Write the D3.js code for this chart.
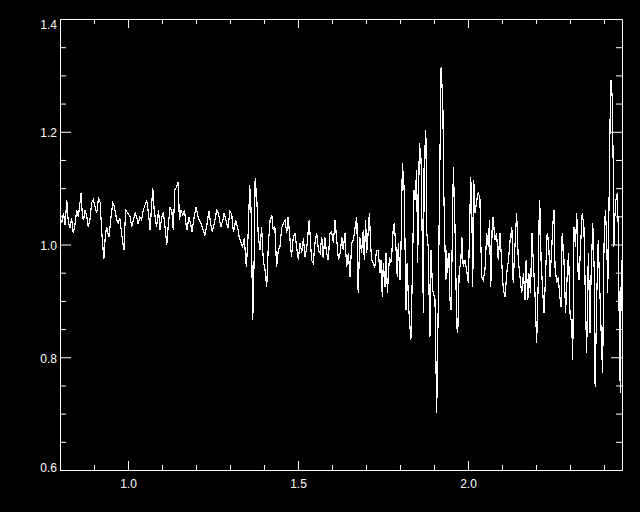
<!DOCTYPE html>
<html>
<head>
<meta charset="utf-8">
<script src="https://cdn.jsdelivr.net/npm/d3@7"></script>
<style>
  html, body { margin: 0; padding: 0; background: #000; }
  svg { display: block; }
</style>
</head>
<body>
<div id="grafico"></div>
<script>
// [comprimento de onda, razao]
const espectro = [
  [0.800,1.049],[0.805,1.038],[0.810,1.056],[0.815,1.035],[0.820,1.079],[0.824,1.043],[0.829,1.029],[0.834,1.047],
  [0.839,1.020],[0.844,1.035],[0.849,1.061],[0.854,1.049],[0.859,1.075],[0.862,1.091],[0.866,1.049],[0.869,1.043],
  [0.874,1.061],[0.879,1.049],[0.883,1.031],[0.888,1.043],[0.893,1.074],[0.898,1.079],[0.903,1.067],[0.908,1.056],
  [0.913,1.082],[0.918,1.075],[0.923,1.020],[0.929,0.974],[0.933,1.013],[0.937,1.031],[0.944,1.013],[0.949,1.043],
  [0.955,1.074],[0.960,1.067],[0.967,1.043],[0.971,1.038],[0.976,1.047],[0.981,1.020],[0.988,0.990],[0.993,1.061],
  [0.999,1.056],[1.006,1.049],[1.011,1.031],[1.016,1.043],[1.021,1.056],[1.026,1.047],[1.030,1.036],[1.035,1.049],
  [1.040,1.043],[1.045,1.061],[1.050,1.070],[1.055,1.079],[1.060,1.056],[1.065,1.026],[1.070,1.074],[1.073,1.100],
  [1.077,1.061],[1.084,1.031],[1.090,1.061],
  [1.094,1.026],[1.099,1.047],[1.104,1.058],[1.109,1.031],[1.114,0.999],[1.119,1.038],[1.124,1.067],[1.129,1.058],
  [1.133,1.026],[1.138,1.097],[1.143,1.102],[1.148,1.111],[1.151,1.043],[1.156,1.061],[1.161,1.052],[1.166,1.061],
  [1.171,1.035],[1.174,1.026],[1.179,1.049],[1.184,1.038],[1.188,1.022],[1.193,1.043],[1.200,1.067],[1.205,1.052],
  [1.210,1.043],[1.216,1.035],[1.221,1.026],[1.226,1.017],[1.231,1.031],[1.238,1.059],[1.243,1.038],[1.248,1.022],
  [1.254,1.038],[1.261,1.061],[1.266,1.056],[1.273,1.031],[1.279,1.043],[1.283,1.056],[1.288,1.043],[1.294,1.029],
  [1.300,1.059],[1.305,1.054],[1.310,1.022],[1.317,1.043],[1.323,1.029],[1.327,1.013],[1.332,1.004],[1.337,0.996],
  [1.342,1.011],[1.348,0.960],[1.353,1.013],[1.358,1.105],[1.362,1.061],[1.367,0.866],[1.371,0.972],[1.374,1.118],
  [1.379,1.079],[1.383,1.017],
  [1.388,0.990],[1.393,1.031],[1.398,0.972],[1.403,0.955],[1.408,0.925],[1.413,1.003],[1.418,1.043],[1.423,1.052],
  [1.427,1.026],[1.432,1.031],[1.437,0.960],[1.442,0.990],[1.447,0.996],[1.452,1.029],[1.457,1.038],[1.462,1.043],
  [1.467,1.020],[1.471,1.049],[1.476,1.013],[1.481,0.978],[1.486,1.013],[1.491,1.020],[1.496,0.996],[1.501,0.972],
  [1.506,1.003],[1.511,0.985],[1.516,1.011],[1.521,0.978],[1.526,0.996],[1.533,1.043],[1.540,0.972],[1.545,0.967],
  [1.550,1.003],[1.555,1.020],[1.560,0.990],[1.565,0.985],[1.570,1.013],[1.574,0.976],[1.579,1.013],[1.584,0.985],
  [1.589,0.972],[1.594,1.020],[1.599,1.022],[1.604,1.003],[1.609,1.043],[1.614,1.008],[1.619,0.972],[1.624,0.985],
  [1.629,1.013],[1.633,0.990],[1.638,1.020],[1.643,0.960],[1.648,0.985],[1.653,0.942],[1.658,1.003],[1.663,1.008],
  [1.668,1.031],[1.673,1.049],[1.677,0.914],
  [1.682,1.013],[1.687,0.985],[1.692,1.026],[1.695,0.972],[1.699,1.043],[1.702,0.985],[1.707,1.026],[1.710,1.056],
  [1.714,0.996],[1.717,0.972],[1.721,0.967],[1.726,0.960],[1.731,0.990],[1.736,0.990],[1.741,0.949],[1.744,0.972],
  [1.748,0.907],[1.751,0.967],[1.756,0.925],[1.759,0.985],[1.763,0.914],[1.769,0.978],[1.773,0.967],[1.776,0.985],
  [1.780,1.026],[1.783,1.038],[1.788,0.996],[1.792,0.942],[1.795,1.003],[1.800,0.937],[1.803,0.996],[1.807,1.145],
  [1.812,1.102],[1.818,0.884],[1.821,0.967],[1.826,0.884],[1.832,0.831],[1.836,0.937],[1.841,1.097],[1.844,1.079],
  [1.849,1.132],[1.852,0.967],[1.857,1.180],[1.862,1.150],[1.865,1.026],[1.869,0.878],[1.871,1.138],[1.876,1.203],
  [1.879,1.020],[1.883,0.996],[1.888,0.836],[1.891,0.990],[1.896,0.919],[1.903,0.902],[1.908,0.701],[1.913,0.914],
  [1.916,1.084],
  [1.921,1.315],[1.926,1.251],[1.929,1.091],[1.932,1.003],[1.935,0.937],[1.937,0.990],[1.940,0.949],[1.944,0.985],
  [1.947,0.902],[1.950,0.884],[1.953,0.978],[1.957,1.138],[1.962,1.026],[1.967,0.854],[1.970,0.843],[1.974,0.949],
  [1.979,0.972],[1.982,1.013],[1.986,0.960],[1.991,0.972],[1.996,0.955],[2.001,0.932],[2.004,1.008],[2.008,1.120],
  [2.011,1.079],[2.014,0.925],[2.017,1.114],[2.021,1.056],[2.026,1.079],[2.030,1.091],[2.035,1.084],[2.038,0.996],
  [2.041,0.942],[2.045,0.937],[2.050,0.955],[2.055,1.020],[2.060,0.996],[2.063,1.043],[2.067,0.925],[2.071,1.026],
  [2.074,1.049],[2.079,1.008],[2.084,1.020],[2.089,0.972],[2.094,1.020],[2.099,0.972],[2.104,0.919],[2.109,0.907],
  [2.114,0.949],[2.119,0.972],[2.124,1.008],[2.129,1.031],[2.133,0.932],[2.138,0.996],[2.143,1.056],[2.148,0.972],
  [2.153,0.942],[2.158,0.914],[2.163,0.949],[2.168,0.902],[2.171,0.972],[2.176,0.902],[2.179,0.949],[2.184,0.914],
  [2.188,1.020],[2.192,0.972],[2.197,0.914],[2.202,0.825],[2.207,0.942],[2.210,1.079],
  [2.212,1.061],[2.215,0.972],[2.220,0.914],[2.224,0.878],[2.229,0.960],[2.233,1.020],[2.237,1.008],[2.241,0.942],
  [2.246,0.985],[2.249,1.031],[2.253,1.061],[2.256,0.960],[2.261,0.932],[2.266,0.942],[2.269,0.914],[2.274,0.889],
  [2.277,1.020],[2.282,0.978],[2.287,0.878],[2.292,0.949],[2.296,0.985],[2.300,0.878],[2.305,0.861],[2.308,0.795],
  [2.312,1.031],[2.316,0.996],[2.320,1.056],[2.324,0.949],[2.327,0.937],[2.331,0.996],[2.336,1.056],[2.341,1.031],
  [2.345,0.914],[2.349,0.808],[2.354,0.985],[2.359,0.843],[2.362,0.942],[2.367,1.038],[2.371,0.960],[2.374,0.747],
  [2.379,0.914],[2.383,1.008],[2.388,0.914],[2.393,0.818],[2.396,0.772],[2.400,0.996],[2.404,1.061],[2.408,1.013],
  [2.411,0.914],[2.415,1.079],[2.418,1.221],[2.421,1.292],[2.424,1.262],[2.427,1.150],[2.429,0.996],[2.432,1.049],
  [2.435,1.079],[2.439,1.091],[2.442,1.031],[2.445,0.854],[2.448,0.737],[2.451,0.972]
];

const dominioX = [0.8, 2.453];
const dominioY = [0.6, 1.4];
const ticksX = [1.0, 1.5, 2.0];
const ticksY = [0.6, 0.8, 1.0, 1.2, 1.4];
const passoMenorX = 0.1;
const passoMenorY = 0.05;

function ticksMenores(dominio, passo, maiores) {
  const n = Math.floor((dominio[1] - dominio[0]) / passo + 1e-6);
  const inicio = Math.ceil(dominio[0] / passo - 1e-6) * passo;
  return d3.range(n + 1)
    .map(i => +(inicio + i * passo).toFixed(4))
    .filter(v => v <= dominio[1] + 1e-9)
    .filter(v => !maiores.some(m => Math.abs(m - v) < 1e-6));
}

function desenharGrafico() {
  const largura = 640, altura = 512;
  const esq = 60, dir = 622, topo = 19, base = 470;

  const svg = d3.select("#grafico")
    .html("")
    .append("svg")
    .attr("width", largura)
    .attr("height", altura)
    .style("background", "#000");

  const x = d3.scaleLinear().domain(dominioX).range([esq, dir]);
  const y = d3.scaleLinear().domain(dominioY).range([base, topo]);

  const menoresX = ticksMenores(dominioX, passoMenorX, ticksX);
  const menoresY = ticksMenores(dominioY, passoMenorY, ticksY);

  const fonte = "'Liberation Sans', Arial, sans-serif";
  const fmt = d3.format(".1f");

  // eixos: maiores com rotulo, menores sem
  const eixos = [
    { gen: d3.axisBottom, escala: x, pos: `translate(0,${base})`, maiores: ticksX, menores: menoresX, len: 9, lenMenor: 5, rotulo: true },
    { gen: d3.axisTop, escala: x, pos: `translate(0,${topo})`, maiores: ticksX, menores: menoresX, len: 9, lenMenor: 5, rotulo: false },
    { gen: d3.axisLeft, escala: y, pos: `translate(${esq},0)`, maiores: ticksY, menores: menoresY, len: 11, lenMenor: 6, rotulo: true },
    { gen: d3.axisRight, escala: y, pos: `translate(${dir},0)`, maiores: ticksY, menores: menoresY, len: 11, lenMenor: 6, rotulo: false }
  ];

  eixos.forEach(e => {
    const gMaior = svg.append("g")
      .attr("transform", e.pos)
      .call(e.gen(e.escala)
        .tickValues(e.maiores)
        .tickSizeInner(-e.len)
        .tickSizeOuter(0)
        .tickPadding(e.gen === d3.axisBottom ? 9 : 3)
        .tickFormat(e.rotulo ? fmt : ""));

    const gMenor = svg.append("g")
      .attr("transform", e.pos)
      .call(e.gen(e.escala)
        .tickValues(e.menores)
        .tickSizeInner(-e.lenMenor)
        .tickSizeOuter(0)
        .tickFormat(""));
    gMenor.select(".domain").remove();

    [gMaior, gMenor].forEach(g => {
      g.selectAll("path, line").attr("stroke", "#fff").attr("stroke-width", 1);
      g.selectAll("text")
        .attr("fill", "#fff")
        .style("font-family", fonte)
        .style("font-size", "12px");
    });

    if (e.gen === d3.axisLeft) {
      gMaior.selectAll("text").attr("dy", d => d === dominioY[1] ? "0.75em" : (d === dominioY[0] ? "0.1em" : "0.4em"));
    }
  });

  svg.append("clipPath")
    .attr("id", "recorte")
    .append("rect")
    .attr("x", esq)
    .attr("y", topo)
    .attr("width", dir - esq)
    .attr("height", base - topo);

  const linha = d3.line()
    .x(d => x(d[0]))
    .y(d => y(d[1]));

  svg.append("path")
    .datum(espectro)
    .attr("clip-path", "url(#recorte)")
    .attr("fill", "none")
    .attr("stroke", "#fff")
    .attr("stroke-width", 1.2)
    .attr("shape-rendering", "crispEdges")
    .attr("d", linha);
}

document.addEventListener("DOMContentLoaded", desenharGrafico);
</script>
</body>
</html>
